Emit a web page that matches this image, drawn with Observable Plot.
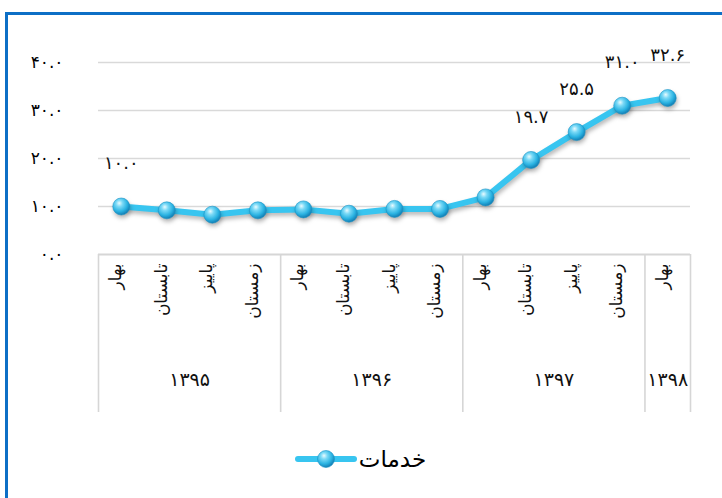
<!DOCTYPE html>
<html>
<head>
<meta charset="utf-8">
<script src="https://cdn.jsdelivr.net/npm/d3@7"></script>
<script src="https://cdn.jsdelivr.net/npm/@observablehq/plot@0.6"></script>
<style>
  html, body { margin: 0; padding: 0; background: #fff; overflow: hidden; }
  body { width: 722px; height: 498px; position: relative; font-family: "DejaVu Sans", sans-serif; }
  #border { position: absolute; left: 5px; top: 12px; width: 900px; height: 700px;
            border-left: 3px solid #0d6fc6; border-top: 3px solid #0d6fc6; box-sizing: border-box; }
  #chart { position: absolute; left: 0; top: 0; }
  #legend { position: absolute; left: 0; top: 440px; width: 722px; height: 38px;
            display: flex; justify-content: center; align-items: center; direction: ltr; gap: 3px; }
  #legend span { font-size: 23px; color: #000; font-family: "DejaVu Sans", sans-serif; }
</style>
</head>
<body>
<div id="border"></div>
<div id="chart"></div>
<div id="legend"></div>
<script>
// ---- data ----
const seriesName = "خدمات";
const years = ["۱۳۹۵", "۱۳۹۶", "۱۳۹۷", "۱۳۹۸"];
const seasons = ["بهار", "تابستان", "پاییز", "زمستان"];
const quarterYears = [0, 0, 0, 0, 1, 1, 1, 1, 2, 2, 2, 2, 3];
const quarterSeasons = [0, 1, 2, 3, 0, 1, 2, 3, 0, 1, 2, 3, 0];
const values = [10.0, 9.2, 8.3, 9.2, 9.4, 8.5, 9.5, 9.5, 11.9, 19.7, 25.5, 31.0, 32.6];
const labeledIndex = [0, 9, 10, 11, 12];
const yTicks = [0, 10, 20, 30, 40];

// ---- derived tables ----
const fa = s => String(s).replace(/\d/g, d => "۰۱۲۳۴۵۶۷۸۹"[d]);
const fmt = v => fa(v.toFixed(1));
const rows = values.map((v, i) => ({i, v, season: seasons[quarterSeasons[i]], year: quarterYears[i]}));
const labeled = labeledIndex.map(i => rows[i]);
const groups = years.map((y, k) => {
  const idx = rows.filter(r => r.year === k).map(r => r.i);
  return {year: y, start: d3.min(idx) - 0.5, end: d3.max(idx) + 0.5};
});
const boundaries = Array.from(new Set(groups.flatMap(g => [g.start, g.end])));

const lineColor = "#38c5f0";

const plot = Plot.plot({
  width: 722,
  height: 440,
  marginLeft: 98,
  marginRight: 32,
  marginTop: 62,
  marginBottom: 186,
  style: {fontFamily: "DejaVu Sans, sans-serif", fontSize: "14px", color: "#000", background: "transparent", overflow: "visible"},
  x: {domain: [-0.5, values.length - 0.5], axis: null},
  y: {domain: [0, 40], axis: null},
  marks: [
    Plot.ruleY(yTicks.filter(t => t > 0), {stroke: "#d9d9d9", strokeWidth: 1.6}),
    Plot.ruleY([0], {stroke: "#d6d6d6", strokeWidth: 2}),
    Plot.ruleX(boundaries, {insetTop: 192, insetBottom: -158, stroke: "#d6d6d6", strokeWidth: 1.6}),
    Plot.axisY(yTicks, {tickSize: 0, tickPadding: 35, tickFormat: fmt, fontSize: 17, label: null}),
    Plot.line(rows, {x: "i", y: "v", stroke: lineColor, strokeWidth: 6, strokeLinejoin: "round"}),
    Plot.dot(rows, {x: "i", y: "v", r: 8.5, fill: "url(#ball)", stroke: "#1b93c6", strokeWidth: 0.6}),
    Plot.text(labeled, {x: "i", y: "v", text: d => fmt(d.v), dy: -43, fontSize: 18, fill: "#111"}),
    Plot.text(rows, {x: "i", frameAnchor: "bottom", text: "season", rotate: -90, textAnchor: "end", dy: 9, fontSize: 17, fill: "#111"}),
    Plot.text(groups, {x: d => (d.start + d.end) / 2, frameAnchor: "bottom", text: "year", dy: 131, fontSize: 19, fill: "#111"})
  ]
});

const svg = d3.select(plot);
const defs = svg.insert("defs", ":first-child");
function addBall(defsSel) {
  const g = defsSel.append("radialGradient").attr("id", "ball")
    .attr("cx", "40%").attr("cy", "35%").attr("r", "65%").attr("fx", "38%").attr("fy", "30%");
  g.append("stop").attr("offset", "0%").attr("stop-color", "#e9fbff");
  g.append("stop").attr("offset", "30%").attr("stop-color", "#7ad9f6");
  g.append("stop").attr("offset", "70%").attr("stop-color", "#2bb3e2");
  g.append("stop").attr("offset", "100%").attr("stop-color", "#137fb5");
}
addBall(defs);
svg.selectAll('g[aria-label="line"], g[aria-label="dot"]')
  .style("filter", "drop-shadow(1px 3px 2px rgba(0,0,0,0.28))");
document.getElementById("chart").appendChild(plot);

// legend (below the svg)
const leg = d3.select("#legend");
const sw = leg.append("svg").attr("width", 60).attr("height", 22).style("overflow", "visible");
sw.append("line").attr("x1", 2).attr("x2", 58).attr("y1", 11).attr("y2", 11)
  .attr("stroke", lineColor).attr("stroke-width", 6).attr("stroke-linecap", "round");
sw.append("circle").attr("cx", 30).attr("cy", 11).attr("r", 8.5)
  .attr("fill", "url(#ball)").attr("stroke", "#1b93c6").attr("stroke-width", 0.6);
leg.append("span").text(seriesName);
</script>
</body>
</html>
